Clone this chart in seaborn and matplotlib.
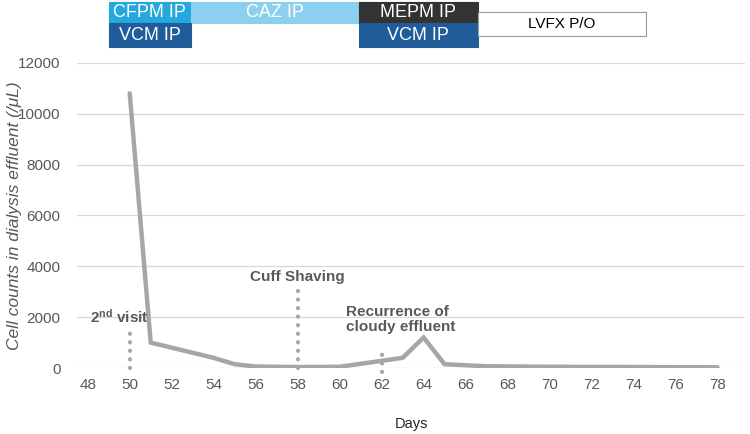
import matplotlib
matplotlib.use("Agg")
import matplotlib.pyplot as plt
import matplotlib.transforms as mtransforms
from matplotlib.patches import Rectangle
import pandas as pd
import seaborn as sns

# cell counts in effluent by day
days = [50, 51, 54, 55, 56, 58, 60, 63, 64, 65, 67, 70, 74, 78]
cells = [10800, 1000, 400, 150, 60, 40, 50, 400, 1200, 150, 70, 50, 40, 30]

# antibiotic regimens shown above the plot: (label, start day, end day, row, colour)
regimen_names = ["CFPM IP", "CAZ IP", "MEPM IP", "VCM IP", "VCM IP", "LVFX P/O"]
regimen_start = [49.0, 52.9, 60.9, 49.0, 60.9, 66.6]
regimen_end = [52.9, 60.9, 66.6, 52.9, 66.6, 74.6]
regimen_row = ["top", "top", "top", "bottom", "bottom", "middle"]
regimen_color = ["#25a9dc", "#8ccfee", "#333333", "#1f5c99", "#1f5c99", "white"]

# events marked with dotted lines
event_labels = [r"$\mathbf{2^{nd}}$ visit", "Cuff Shaving", "Recurrence of\ncloudy effluent"]
event_days = [50, 58, 62]
event_heights = [1600, 3100, 800]

sns.set_theme(style="whitegrid")
plt.rcParams["font.family"] = ["Liberation Sans", "DejaVu Sans"]
plt.rcParams["mathtext.fontset"] = "custom"
plt.rcParams["mathtext.rm"] = "Liberation Sans"
plt.rcParams["mathtext.bf"] = "Liberation Sans:bold"

df = pd.DataFrame({"day": days, "cells": cells})

fig = plt.figure(figsize=(7.5, 4.34), dpi=100)
ax = fig.add_axes([0.103, 0.152, 0.89, 0.703])

sns.lineplot(data=df, x="day", y="cells", ax=ax, color="#a6a6a6", linewidth=3.2,
             solid_joinstyle="miter")

ax.set_xlim(47.5, 79.3)
ax.set_ylim(0, 12000)
ax.set_xticks(range(48, 79, 2))
ax.set_yticks(range(0, 12001, 2000))
ax.grid(axis="x", visible=False)
ax.grid(axis="y", color="#d9d9d9", linewidth=0.9)
for s in ax.spines.values():
    s.set_visible(False)
ax.tick_params(axis="both", length=0, labelsize=11, labelcolor="#595959")
ax.tick_params(axis="x", pad=7)
ax.tick_params(axis="y", pad=12)
ax.set_xlabel("Days", fontsize=10.5, color="#262626", labelpad=18)
ax.set_ylabel("Cell counts in dialysis effluent (/μL)", fontsize=12.5, color="#595959",
              style="italic")
ax.yaxis.set_label_coords(-0.083, 0.5)

# event markers
for x, h in zip(event_days, event_heights):
    ax.plot([x, x], [0 if x != 62 else -150, h], color="#a6a6a6", linewidth=3,
            linestyle=(0, (0.05, 2.0)), dash_capstyle="round", clip_on=False)
ax.text(49.5, 2000, event_labels[0], ha="center", va="center", fontsize=11,
        fontweight="bold", color="#595959")
ax.text(58, 3600, event_labels[1], ha="center", va="center", fontsize=11,
        fontweight="bold", color="#595959")
ax.text(60.3, 1900, event_labels[2], ha="left", va="center", fontsize=11,
        fontweight="bold", color="#595959", linespacing=1.1)

# regimen boxes above the axes (x in days, y in figure fraction)
trans = mtransforms.blended_transform_factory(ax.transData, fig.transFigure)
rows = {"top": (1 - 23 / 434, 21 / 434), "bottom": (1 - 47 / 434, 24 / 434),
        "middle": (1 - 36 / 434, 24 / 434)}
for name, x0, x1, row, col in zip(regimen_names, regimen_start, regimen_end,
                                  regimen_row, regimen_color):
    y0, h = rows[row]
    edge = "#9a9a9a" if col == "white" else col
    ax.add_patch(Rectangle((x0, y0), x1 - x0, h, transform=trans, facecolor=col,
                           edgecolor=edge, linewidth=0.8, clip_on=False))
    txt_col = "black" if col == "white" else "white"
    ax.text((x0 + x1) / 2, y0 + h / 2, name, transform=trans, ha="center",
            va="center", fontsize=13 if col != "white" else 11, color=txt_col,
            clip_on=False)

fig.savefig("out.png", dpi=100)
